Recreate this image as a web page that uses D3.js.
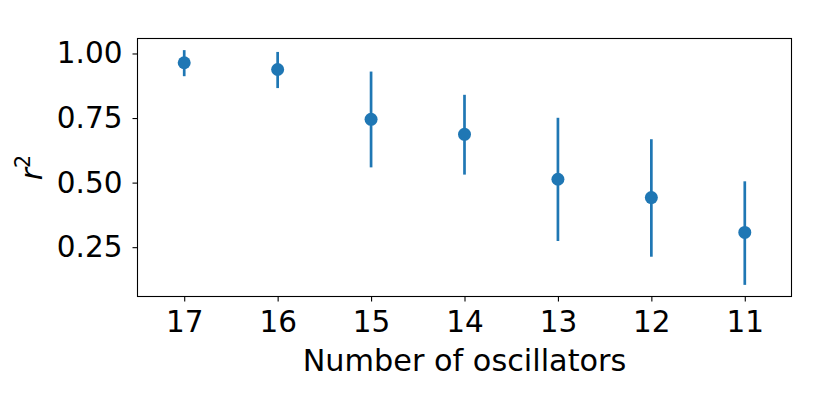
<!DOCTYPE html>
<html>
<head>
<meta charset="utf-8">
<script src="https://cdn.jsdelivr.net/npm/d3@7"></script>
<style>
  body { margin: 0; background: #fff; }
  svg text { font-family: "DejaVu Sans", sans-serif; fill: #000; }
</style>
</head>
<body>
<svg id="chart" width="830" height="415"></svg>
<script>
// values
const oscillators = ['17', '16', '15', '14', '13', '12', '11'];
const r2Mean  = [0.964, 0.938, 0.745, 0.687, 0.513, 0.442, 0.307];
const r2Lower = [0.912, 0.866, 0.559, 0.531, 0.274, 0.213, 0.104];
const r2Upper = [1.013, 1.006, 0.930, 0.840, 0.751, 0.668, 0.505];
const yTicks  = [0.25, 0.50, 0.75, 1.00];

const svg = d3.select('#chart');
const m = {left: 137.5, right: 791.5, top: 38.5, bottom: 296.5};
const blue = '#1f77b4';
const fs = 29.5;

const x = d3.scalePoint()
    .domain(oscillators)
    .range([m.left, m.right])
    .padding(0.5);

const y = d3.scaleLinear()
    .domain([0.059, 1.058])
    .range([m.bottom, m.top]);

const data = oscillators.map((k, i) => ({
    k: k, v: r2Mean[i], lo: r2Lower[i], hi: r2Upper[i]
}));

// error bars
svg.append('g').selectAll('line')
    .data(data)
  .enter().append('line')
    .attr('x1', d => x(d.k)).attr('x2', d => x(d.k))
    .attr('y1', d => y(d.lo)).attr('y2', d => y(d.hi))
    .attr('stroke', blue)
    .attr('stroke-width', 2.7);

svg.append('g').selectAll('circle')
    .data(data)
  .enter().append('circle')
    .attr('cx', d => x(d.k))
    .attr('cy', d => y(d.v))
    .attr('r', 6.5)
    .attr('fill', blue);

// axes
const xAxis = svg.append('g')
    .attr('transform', `translate(0,${m.bottom})`)
    .call(d3.axisBottom(x).tickSize(5).tickPadding(10));
const yAxis = svg.append('g')
    .attr('transform', `translate(${m.left},0)`)
    .call(d3.axisLeft(y).tickValues(yTicks).tickFormat(d3.format('.2f')).tickSize(5).tickPadding(10));

[xAxis, yAxis].forEach(a => {
    a.attr('font-size', fs).attr('font-family', '"DejaVu Sans", sans-serif');
    a.select('.domain').remove();
    a.selectAll('.tick line').attr('stroke', '#000').attr('stroke-width', 1.1);
});

// frame
svg.append('rect')
    .attr('x', m.left).attr('y', m.top)
    .attr('width', m.right - m.left).attr('height', m.bottom - m.top)
    .attr('fill', 'none')
    .attr('stroke', '#000')
    .attr('stroke-width', 1.1);

svg.append('text')
    .attr('x', 464.5)
    .attr('y', 371)
    .attr('text-anchor', 'middle')
    .attr('font-size', 30.3)
    .text('Number of oscillators');

const yl = svg.append('text')
    .attr('transform', `translate(42,${(m.top + m.bottom) / 2}) rotate(-90)`)
    .attr('text-anchor', 'middle')
    .attr('font-size', fs);
yl.append('tspan').attr('font-style', 'italic').text('r');
yl.append('tspan').attr('font-size', fs * 0.7).attr('dy', -12).text('2');
</script>
</body>
</html>
